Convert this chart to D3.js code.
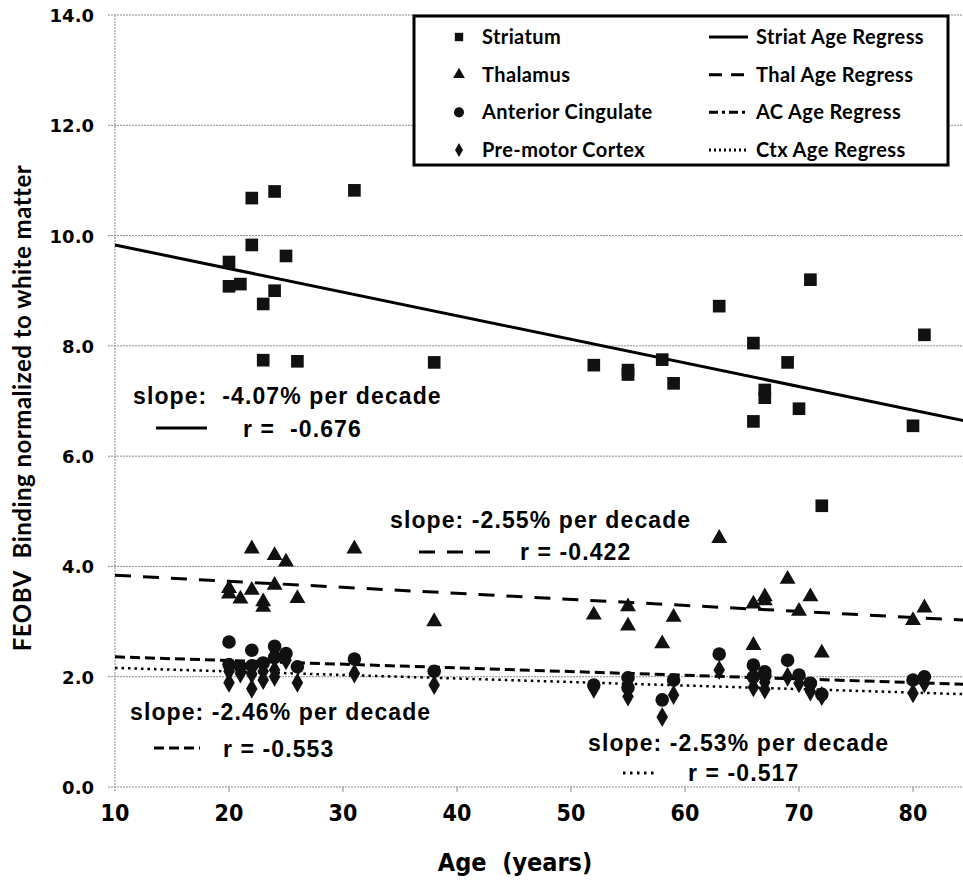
<!DOCTYPE html>
<html>
<head>
<meta charset="utf-8">
<script src="https://cdn.jsdelivr.net/npm/d3@7"></script>
<style>
  body { margin: 0; background: #fff; }
  svg { display: block; }
</style>
</head>
<body>
<main></main>
<script>
// age / value pairs
const striatum = [
  [20, 9.52], [20, 9.08], [21, 9.12], [22, 10.68], [22, 9.83], [23, 8.76], [23, 7.74],
  [24, 10.8], [24, 9.0], [25, 9.63], [26, 7.72], [31, 10.82], [38, 7.7], [52, 7.65],
  [55, 7.56], [55, 7.48], [58, 7.75], [59, 7.32], [63, 8.72], [66, 8.05], [66, 6.63],
  [67, 7.2], [67, 7.06], [69, 7.7], [70, 6.86], [71, 9.2], [72, 5.1], [80, 6.55], [81, 8.2]
];
const thalamus = [
  [20, 3.6], [20, 3.5], [21, 3.41], [22, 4.32], [22, 3.57], [23, 3.36], [23, 3.26],
  [24, 4.2], [24, 3.66], [25, 4.08], [26, 3.42], [31, 4.32], [38, 3.0], [52, 3.12],
  [55, 3.27], [55, 2.92], [58, 2.6], [59, 3.08], [63, 4.51], [66, 3.32], [66, 2.57],
  [67, 3.45], [67, 3.38], [69, 3.77], [70, 3.19], [71, 3.45], [72, 2.43], [80, 3.02], [81, 3.25]
];
const antCingulate = [
  [20, 2.63], [20, 2.22], [21, 2.18], [22, 2.48], [22, 2.2], [23, 2.25], [24, 2.55],
  [24, 2.35], [25, 2.42], [26, 2.18], [31, 2.32], [38, 2.1], [52, 1.85], [55, 1.98],
  [55, 1.8], [58, 1.58], [59, 1.94], [63, 2.41], [66, 2.21], [66, 2.0], [67, 2.09],
  [67, 2.02], [69, 2.3], [70, 2.03], [71, 1.88], [72, 1.68], [80, 1.94], [81, 2.0]
];
const premotor = [
  [20, 1.89], [20, 2.1], [21, 2.06], [22, 1.78], [22, 2.05], [23, 1.94], [23, 2.1],
  [24, 2.12], [24, 2.0], [25, 2.3], [26, 1.89], [31, 2.06], [38, 1.85], [52, 1.78],
  [55, 1.64], [55, 1.8], [58, 1.27], [59, 1.67], [63, 2.12], [66, 1.81], [66, 1.95],
  [67, 1.77], [67, 1.9], [69, 2.0], [70, 1.88], [71, 1.73], [72, 1.65], [80, 1.7], [81, 1.88]
];

// regression lines: fitted value at age 10 and at age 85
const regressAges = [10, 85];
const striatFit = [9.83, 6.62];
const thalFit = [3.84, 3.02];
const acFit = [2.36, 1.86];
const ctxFit = [2.16, 1.68];

const xTicks = [10, 20, 30, 40, 50, 60, 70, 80];
const yTicks = [0, 2, 4, 6, 8, 10, 12, 14];

const legendPoints = ["Striatum", "Thalamus", "Anterior Cingulate", "Pre-motor Cortex"];
const legendLines = ["Striat Age Regress", "Thal Age Regress", "AC Age Regress", "Ctx Age Regress"];

const width = 963, height = 886;
const svg = d3.select("main").append("svg")
  .attr("width", width).attr("height", height);

const x = d3.scaleLinear().domain([10, 85]).range([115, 970]);
const y = d3.scaleLinear().domain([0, 14]).range([787, 15]);

const tickFont = "'Liberation Sans Narrow', 'DejaVu Sans Condensed', sans-serif";
const calFont = "Lato, 'Open Sans', sans-serif";
const arialFont = "'Liberation Sans', Arial, sans-serif";

// grid / axes
const grid = svg.append("g")
  .attr("stroke", "#8a8a8a").attr("stroke-width", 1).attr("stroke-dasharray", "2,1");
grid.selectAll("line.h").data(yTicks).join("line")
  .attr("x1", 108).attr("x2", width)
  .attr("y1", d => y(d)).attr("y2", d => y(d));
grid.append("line")
  .attr("x1", x(10)).attr("x2", x(10)).attr("y1", y(14)).attr("y2", y(0) + 5);

svg.append("g").attr("stroke", "#8a8a8a").attr("stroke-width", 1)
  .selectAll("line").data(xTicks.slice(1)).join("line")
  .attr("x1", d => x(d)).attr("x2", d => x(d))
  .attr("y1", y(0)).attr("y2", y(0) + 5);

svg.append("g").selectAll("text").data(yTicks).join("text")
  .attr("x", 94).attr("y", d => y(d) + 7)
  .attr("text-anchor", "end")
  .attr("font-family", "'DejaVu Sans', sans-serif").attr("font-weight", "bold").attr("font-size", 18)
  .text(d => d.toFixed(1));

svg.append("g").selectAll("text").data(xTicks).join("text")
  .attr("x", d => x(d)).attr("y", 821)
  .attr("text-anchor", "middle")
  .attr("font-family", tickFont).attr("font-weight", "bold").attr("font-size", 23)
  .text(d => d);

svg.append("text")
  .attr("x", 515).attr("y", 871)
  .attr("text-anchor", "middle")
  .attr("font-family", tickFont).attr("font-weight", "bold").attr("font-size", 25)
  .attr("xml:space", "preserve")
  .text("Age  (years)");

svg.append("text")
  .attr("transform", "translate(31,408) rotate(-90)")
  .attr("text-anchor", "middle")
  .attr("font-family", calFont).attr("font-weight", "bold").attr("font-size", 24)
  .attr("letter-spacing", 0.5)
  .attr("xml:space", "preserve")
  .text("FEOBV  Binding normalized to white matter");

// regression lines
const line = d3.line().x(d => x(d[0])).y(d => y(d[1]));
const regressions = [
  { fit: striatFit, dash: null, w: 3 },
  { fit: thalFit, dash: "16,12", w: 3 },
  { fit: acFit, dash: "10,5", w: 3 },
  { fit: ctxFit, dash: "2.5,4", w: 2.5 }
];
svg.append("g").selectAll("path").data(regressions).join("path")
  .attr("d", r => line(regressAges.map((a, i) => [a, r.fit[i]])))
  .attr("fill", "none").attr("stroke", "#000")
  .attr("stroke-width", r => r.w)
  .attr("stroke-dasharray", r => r.dash);

// points
const sym = {
  square: d3.symbol(d3.symbolSquare, 160),
  triangle: d3.symbol(d3.symbolTriangle, 110),
  circle: d3.symbol(d3.symbolCircle, 145),
  diamond: d3.symbol(d3.symbolDiamond, 115)
};
const seriesList = [
  { data: striatum, s: sym.square },
  { data: thalamus, s: sym.triangle },
  { data: antCingulate, s: sym.circle },
  { data: premotor, s: sym.diamond }
];
seriesList.forEach(ser => {
  svg.append("g").selectAll("path").data(ser.data).join("path")
    .attr("transform", d => `translate(${x(d[0])},${y(d[1])})`)
    .attr("d", ser.s)
    .attr("fill", "#111");
});

// annotations
const notes = [
  { tx: 133, ty: 404, slope: "slope:  -4.07% per decade", rx: 243, ry: 437, r: "r =  -0.676", lx: [156, 207], ly: 428, dash: null },
  { tx: 390, ty: 528, slope: "slope: -2.55% per decade", rx: 520, ry: 560, r: "r = -0.422", lx: [419, 490], ly: 552, dash: "16,12" },
  { tx: 130, ty: 720, slope: "slope: -2.46% per decade", rx: 223, ry: 757, r: "r = -0.553", lx: [154, 200], ly: 748, dash: "10,5" },
  { tx: 588, ty: 751, slope: "slope: -2.53% per decade", rx: 688, ry: 781, r: "r = -0.517", lx: [623, 658], ly: 773, dash: "2.5,4.5" }
];
const ann = svg.append("g")
  .attr("font-family", arialFont).attr("font-weight", "bold").attr("font-size", 23)
  .attr("letter-spacing", 1.1);
notes.forEach(n => {
  ann.append("text").attr("x", n.tx).attr("y", n.ty)
    .attr("xml:space", "preserve").text(n.slope);
  ann.append("text").attr("x", n.rx).attr("y", n.ry)
    .attr("xml:space", "preserve").text(n.r);
  ann.append("line")
    .attr("x1", n.lx[0]).attr("x2", n.lx[1]).attr("y1", n.ly).attr("y2", n.ly)
    .attr("stroke", "#000").attr("stroke-width", 3)
    .attr("stroke-dasharray", n.dash);
});

// legend
const leg = svg.append("g");
leg.append("rect")
  .attr("x", 414).attr("y", 16).attr("width", 534).attr("height", 149)
  .attr("fill", "#fff").attr("stroke", "#000").attr("stroke-width", 3);
const rowY = d3.scalePoint().domain(d3.range(4)).range([37, 150]);
const legSyms = [
  d3.symbol(d3.symbolSquare, 70), d3.symbol(d3.symbolTriangle, 60),
  d3.symbol(d3.symbolCircle, 80), d3.symbol(d3.symbolDiamond, 55)
];
const legDash = [null, "13,9", "9,4,3,4", "2,3"];
const legText = { size: 20, spacing: 0.4 };
legendPoints.forEach((name, i) => {
  leg.append("path")
    .attr("transform", `translate(459,${rowY(i)})`)
    .attr("d", legSyms[i]).attr("fill", "#111");
  leg.append("text").attr("x", 482).attr("y", rowY(i) + 7)
    .attr("font-family", calFont).attr("font-weight", "bold").attr("font-size", legText.size)
    .attr("letter-spacing", legText.spacing)
    .text(name);
});
legendLines.forEach((name, i) => {
  leg.append("line")
    .attr("x1", 709).attr("x2", 748).attr("y1", rowY(i)).attr("y2", rowY(i))
    .attr("stroke", "#000").attr("stroke-width", 3)
    .attr("stroke-dasharray", legDash[i]);
  leg.append("text").attr("x", 756).attr("y", rowY(i) + 7)
    .attr("font-family", calFont).attr("font-weight", "bold").attr("font-size", legText.size)
    .attr("letter-spacing", legText.spacing)
    .text(name);
});
</script>
</body>
</html>
